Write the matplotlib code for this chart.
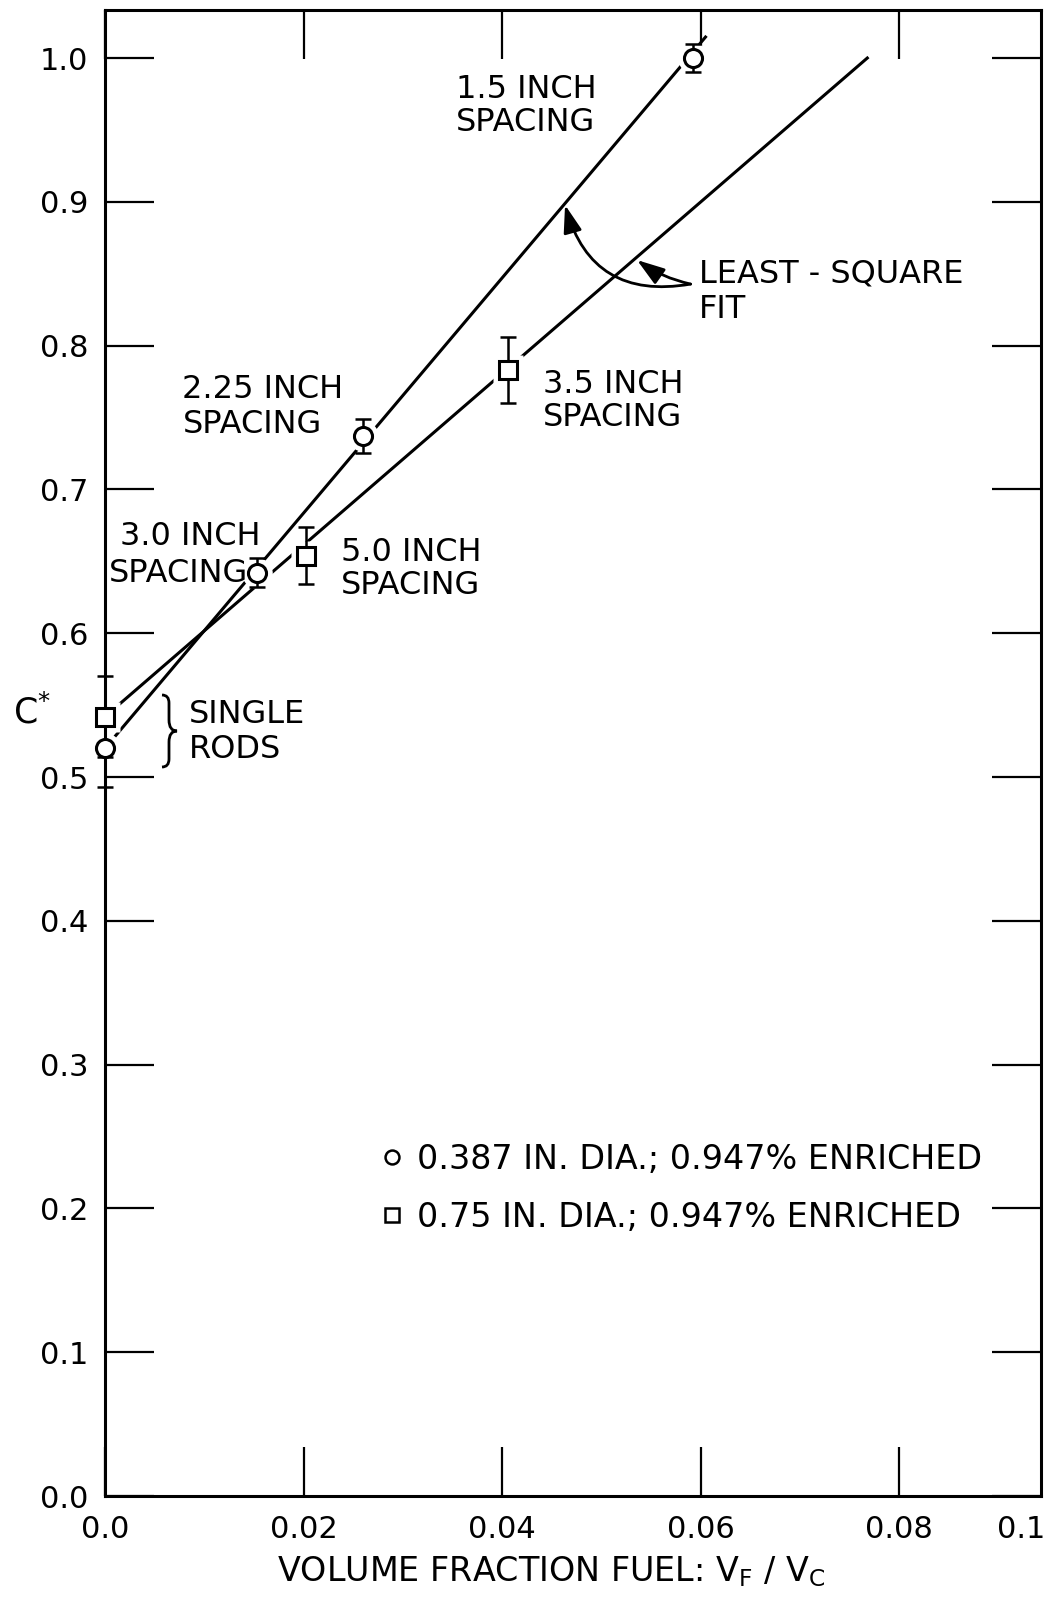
import matplotlib
matplotlib.use("Agg")
import matplotlib.pyplot as plt
from matplotlib.lines import Line2D
from matplotlib.path import Path
from matplotlib.patches import PathPatch
from matplotlib.transforms import Affine2D

plt.rcParams['font.family'] = ['DejaVu Sans']
plt.rcParams['mathtext.default'] = 'regular'

# 0.387 in. rods (circles)
circ_x = [0.0, 0.0153, 0.0260, 0.0592]
circ_y = [0.520, 0.642, 0.737, 1.000]
circ_err = [0.027, 0.010, 0.012, 0.010]
# 0.75 in. rods (squares)
sq_x = [0.0, 0.0202, 0.0406]
sq_y = [0.542, 0.654, 0.783]
sq_err = [0.028, 0.020, 0.023]
# least-square fit lines (end points)
circ_fit_x = [0.0, 0.0605]
circ_fit_y = [0.520, 1.0146]
sq_fit_x = [0.0, 0.0768]
sq_fit_y = [0.542, 1.000]

xticks = [0.0, 0.02, 0.04, 0.06, 0.08]
xticklabels = ['0.0', '0.02', '0.04', '0.06', '0.08']
yticks = [0.0, 0.1, 0.2, 0.3, 0.4, 0.5, 0.6, 0.7, 0.8, 0.9, 1.0]
yticklabels = ['0.0', '0.1', '0.2', '0.3', '0.4', '0.5', '0.6', '0.7', '0.8', '0.9', '1.0']

fig = plt.figure(figsize=(10.47, 16), dpi=100)
ax = fig.add_axes([105/1047, 104/1600, 936/1047, 1486/1600])
ax.set_xlim(0, 0.0943)
ax.set_ylim(0, 1.0334)

lw = 2.2
ax.plot(circ_fit_x, circ_fit_y, color='k', lw=lw, zorder=2)
ax.plot(sq_fit_x, sq_fit_y, color='k', lw=lw, zorder=2)
# white halo so the fit lines stop short of the points
ax.plot(circ_x, circ_y, 'o', ms=22, mfc='white', mec='none', zorder=2.5, clip_on=False)
ax.plot(sq_x, sq_y, 's', ms=21, mfc='white', mec='none', zorder=2.5, clip_on=False)
ax.errorbar(circ_x, circ_y, yerr=circ_err, fmt='none', ecolor='k', elinewidth=1.8,
            capsize=6, capthick=1.8, zorder=3, clip_on=False)
ax.errorbar(sq_x, sq_y, yerr=sq_err, fmt='none', ecolor='k', elinewidth=1.8,
            capsize=6, capthick=1.8, zorder=3, clip_on=False)
ax.plot(circ_x, circ_y, 'o', ms=13, mfc='white', mec='k', mew=2.2, zorder=4, clip_on=False)
ax.plot(sq_x, sq_y, 's', ms=13, mfc='white', mec='k', mew=2.2, zorder=4, clip_on=False)

for s in ax.spines.values():
    s.set_linewidth(2.2)
ax.tick_params(direction='in', length=35, width=1.6, top=True, right=True,
               labelsize=22, pad=12)
ax.tick_params(axis='x', pad=14)
ax.set_xticks(xticks)
ax.set_xticklabels(xticklabels)
ax.set_yticks(yticks)
ax.set_yticklabels(yticklabels)
fig.text(1045/1047, 1 - 1530/1600, '0.1', fontsize=22, ha='right', va='center')

fs = 23
ax.text(0.0354, 0.9666, '1.5 INCH\nSPACING', fontsize=fs, va='center', linespacing=1.1)
ax.text(0.0598, 0.8373, 'LEAST - SQUARE\nFIT', fontsize=fs, va='center', linespacing=1.2)
ax.text(0.0078, 0.7573, '2.25 INCH\nSPACING', fontsize=fs, va='center', linespacing=1.15)
ax.text(0.0441, 0.7615, '3.5 INCH\nSPACING', fontsize=fs, va='center', linespacing=1.1)
ax.text(0.0015, 0.6676, '3.0 INCH', fontsize=fs, va='center')
ax.text(0.0004, 0.6418, 'SPACING', fontsize=fs, va='center')
ax.text(0.0238, 0.6446, '5.0 INCH\nSPACING', fontsize=fs, va='center', linespacing=1.1)
ax.text(0.0085, 0.5313, 'SINGLE\nRODS', fontsize=fs, va='center', linespacing=1.15)

# arrows to the two fit lines
ax.annotate('', xy=(0.04635, 0.8978), xytext=(0.0590, 0.8428),
            arrowprops=dict(arrowstyle='-|>,head_length=0.6,head_width=0.2', color='k', lw=2,
                            mutation_scale=28, connectionstyle='arc3,rad=-0.45',
                            shrinkA=0, shrinkB=0))
ax.annotate('', xy=(0.0536, 0.8595), xytext=(0.0590, 0.8428),
            arrowprops=dict(arrowstyle='-|>,head_length=0.6,head_width=0.2', color='k', lw=2,
                            mutation_scale=28, connectionstyle='arc3,rad=-0.1',
                            shrinkA=0, shrinkB=0))

# brace for the single rods (figure pixel coords)
px = Affine2D().scale(1/100.0) + fig.dpi_scale_trans
def fy(y):
    return 1600 - y
verts = [(162, fy(695)), (169, fy(695)), (169, fy(703)),
         (169, fy(720)), (169, fy(731)), (177, fy(731)),
         (169, fy(731)), (169, fy(742)), (169, fy(759)),
         (169, fy(767)), (162, fy(767))]
codes = [Path.MOVETO, Path.CURVE3, Path.CURVE3,
         Path.LINETO, Path.CURVE3, Path.CURVE3,
         Path.CURVE3, Path.CURVE3, Path.LINETO,
         Path.CURVE3, Path.CURVE3]
fig.patches.append(PathPatch(Path(verts, codes), transform=px, fill=False, lw=2, ec='k'))

# y label and x label
fig.text(32/1047, 1 - 712/1600, 'C$^{*}$', fontsize=25, ha='center', va='center')
fig.text(551/1047, 1 - 1572/1600, 'VOLUME FRACTION FUEL: V$_F$ / V$_C$',
         fontsize=24, ha='center', va='center')

handles = [Line2D([], [], ls='none', marker='o', ms=10, mfc='white', mec='k', mew=1.8),
           Line2D([], [], ls='none', marker='s', ms=10, mfc='white', mec='k', mew=1.8)]
ax.legend(handles, ['0.387 IN. DIA.; 0.947% ENRICHED', '0.75 IN. DIA.; 0.947% ENRICHED'],
          loc='center left', bbox_to_anchor=(0.296, 0.207), frameon=False, fontsize=24,
          handlelength=0.6, handletextpad=0.45, labelspacing=0.75, borderpad=0, borderaxespad=0)

fig.savefig('out.png', dpi=100)
